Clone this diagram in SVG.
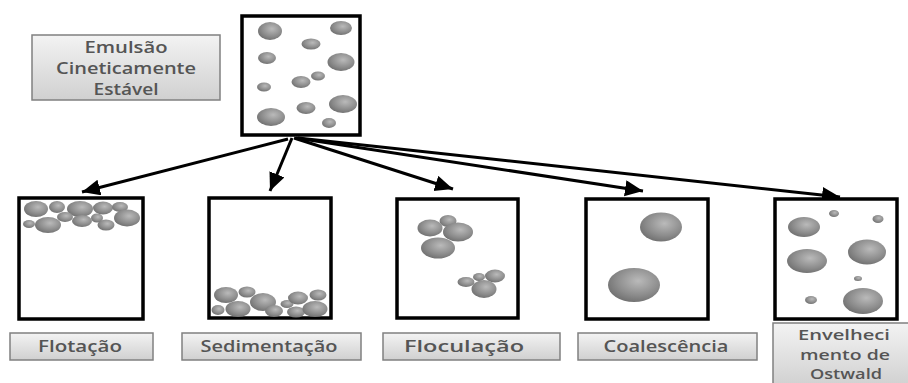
<svg xmlns="http://www.w3.org/2000/svg" width="908" height="383" viewBox="0 0 908 383">
  <defs>
    <radialGradient id="sphere" cx="0.58" cy="0.38" r="0.7">
      <stop offset="0" stop-color="#bababa"/>
      <stop offset="0.6" stop-color="#8c8c8c"/>
      <stop offset="1" stop-color="#6a6a6a"/>
    </radialGradient>
    <linearGradient id="tag" x1="0" y1="0" x2="0" y2="1">
      <stop offset="0" stop-color="#f3f3f3"/>
      <stop offset="1" stop-color="#d0d0d0"/>
    </linearGradient>
    <marker id="head" markerUnits="userSpaceOnUse" markerWidth="20" markerHeight="18" refX="18" refY="8" orient="auto">
      <path d="M0,0 L18,8 L0,16 z" fill="#000"/>
    </marker>
  </defs>
  <style>
    .vessel { fill: #fff; stroke: #000; stroke-width: 3.5; }
    .drop { fill: url(#sphere); }
    .tag { fill: url(#tag); stroke: #808080; stroke-width: 1.5; }
    .label { font-family: "Open Sans", "DejaVu Sans", sans-serif; font-size: 15.5px; font-weight: 600; fill: #555; text-anchor: middle; }
    .small { font-size: 14px; }
    .arrow { fill: none; stroke: #000; stroke-width: 3; marker-end: url(#head); }
  </style>

  <rect width="908" height="383" fill="#fff"/>

  <!-- stable emulsion caption -->
  <g id="label-stable">
    <rect class="tag" x="32" y="35" width="188" height="65"/>
    <text class="label" x="126" y="53" textLength="83" lengthAdjust="spacingAndGlyphs">Emulsão</text>
    <text class="label" x="126" y="74" textLength="140" lengthAdjust="spacingAndGlyphs">Cineticamente</text>
    <text class="label" x="126" y="95" textLength="65" lengthAdjust="spacingAndGlyphs">Estável</text>
  </g>

  <!-- initial dispersed emulsion -->
  <g id="emulsion">
    <rect class="vessel" x="242" y="16" width="118" height="119"/>
    <ellipse class="drop" cx="270" cy="31" rx="12" ry="9"/>
    <ellipse class="drop" cx="341" cy="28" rx="11" ry="7"/>
    <ellipse class="drop" cx="311" cy="44" rx="9.5" ry="5.5"/>
    <ellipse class="drop" cx="267" cy="58" rx="9" ry="6"/>
    <ellipse class="drop" cx="341" cy="62" rx="13.5" ry="9"/>
    <ellipse class="drop" cx="318" cy="76" rx="7" ry="4.5"/>
    <ellipse class="drop" cx="301" cy="82" rx="9.5" ry="6"/>
    <ellipse class="drop" cx="264" cy="87" rx="7" ry="4.5"/>
    <ellipse class="drop" cx="343" cy="104" rx="14" ry="9"/>
    <ellipse class="drop" cx="306" cy="108" rx="9.5" ry="6"/>
    <ellipse class="drop" cx="271" cy="117" rx="14" ry="9"/>
    <ellipse class="drop" cx="329" cy="123" rx="7" ry="5"/>
  </g>

  <!-- connectors -->
  <g id="connectors">
    <line class="arrow" x1="288" y1="139" x2="82" y2="192"/>
    <line class="arrow" x1="292" y1="138" x2="270" y2="191"/>
    <line class="arrow" x1="294" y1="138" x2="453" y2="189"/>
    <line class="arrow" x1="296" y1="138" x2="643" y2="191"/>
    <line class="arrow" x1="298" y1="138" x2="840" y2="197"/>
  </g>

  <!-- creaming -->
  <g id="flotacao">
    <rect class="vessel" x="19" y="198" width="124" height="121"/>
    <ellipse class="drop" cx="29" cy="224" rx="6" ry="4"/>
    <ellipse class="drop" cx="36" cy="209" rx="12" ry="8"/>
    <ellipse class="drop" cx="57" cy="207" rx="8" ry="6"/>
    <ellipse class="drop" cx="80" cy="209" rx="13" ry="8"/>
    <ellipse class="drop" cx="103" cy="208" rx="10" ry="6.5"/>
    <ellipse class="drop" cx="120" cy="207" rx="8" ry="5"/>
    <ellipse class="drop" cx="65" cy="217" rx="8" ry="5"/>
    <ellipse class="drop" cx="97" cy="218" rx="6" ry="4.5"/>
    <ellipse class="drop" cx="127" cy="218" rx="13" ry="8.5"/>
    <ellipse class="drop" cx="48" cy="225" rx="13" ry="8"/>
    <ellipse class="drop" cx="82" cy="221" rx="10" ry="6"/>
    <ellipse class="drop" cx="106" cy="225" rx="8.5" ry="5.5"/>
  </g>

  <!-- sedimentation -->
  <g id="sedimentacao">
    <rect class="vessel" x="209" y="198" width="122" height="120"/>
    <ellipse class="drop" cx="226" cy="295" rx="12" ry="8"/>
    <ellipse class="drop" cx="247" cy="292" rx="8.5" ry="5.5"/>
    <ellipse class="drop" cx="218" cy="310" rx="6.5" ry="5"/>
    <ellipse class="drop" cx="238" cy="309" rx="12.5" ry="8"/>
    <ellipse class="drop" cx="263" cy="302" rx="13" ry="9"/>
    <ellipse class="drop" cx="274" cy="311" rx="9" ry="6"/>
    <ellipse class="drop" cx="287" cy="304" rx="6.5" ry="4"/>
    <ellipse class="drop" cx="298" cy="298" rx="10" ry="6.5"/>
    <ellipse class="drop" cx="318" cy="295" rx="8.5" ry="5.5"/>
    <ellipse class="drop" cx="296" cy="312" rx="9" ry="5.5"/>
    <ellipse class="drop" cx="315" cy="309" rx="12.5" ry="8"/>
  </g>

  <!-- flocculation -->
  <g id="floculacao">
    <rect class="vessel" x="397" y="199" width="121" height="119"/>
    <ellipse class="drop" cx="448" cy="221" rx="8.5" ry="6"/>
    <ellipse class="drop" cx="430" cy="228" rx="12.5" ry="8.5"/>
    <ellipse class="drop" cx="458" cy="232" rx="15" ry="9.5"/>
    <ellipse class="drop" cx="438" cy="248" rx="17" ry="10.5"/>
    <ellipse class="drop" cx="479" cy="277" rx="6" ry="4"/>
    <ellipse class="drop" cx="466" cy="282" rx="8.5" ry="5"/>
    <ellipse class="drop" cx="495" cy="276" rx="10" ry="6.5"/>
    <ellipse class="drop" cx="484" cy="289" rx="12.5" ry="9"/>
  </g>

  <!-- coalescence -->
  <g id="coalescencia">
    <rect class="vessel" x="586" y="199" width="122" height="120"/>
    <ellipse class="drop" cx="661" cy="227" rx="21" ry="14.5"/>
    <ellipse class="drop" cx="634" cy="285" rx="26" ry="17"/>
  </g>

  <!-- Ostwald ripening -->
  <g id="ostwald">
    <rect class="vessel" x="775" y="199" width="122" height="120"/>
    <ellipse class="drop" cx="834" cy="213.5" rx="5" ry="3.5"/>
    <ellipse class="drop" cx="878" cy="219" rx="5.5" ry="4"/>
    <ellipse class="drop" cx="804" cy="227" rx="16" ry="10"/>
    <ellipse class="drop" cx="807" cy="261" rx="20" ry="12"/>
    <ellipse class="drop" cx="867" cy="252" rx="19" ry="12.5"/>
    <ellipse class="drop" cx="858" cy="278.5" rx="4" ry="2.5"/>
    <ellipse class="drop" cx="811" cy="300" rx="6" ry="4"/>
    <ellipse class="drop" cx="863" cy="301" rx="20" ry="13"/>
  </g>

  <!-- captions under each vessel -->
  <g id="label-flotacao">
    <rect class="tag" x="10" y="333" width="143" height="27"/>
    <text class="label" x="80" y="352" textLength="84" lengthAdjust="spacingAndGlyphs">Flotação</text>
  </g>
  <g id="label-sedimentacao">
    <rect class="tag" x="182" y="333" width="179" height="27"/>
    <text class="label" x="269" y="352" textLength="137" lengthAdjust="spacingAndGlyphs">Sedimentação</text>
  </g>
  <g id="label-floculacao">
    <rect class="tag" x="383" y="333" width="177" height="27"/>
    <text class="label" x="464" y="352" textLength="120" lengthAdjust="spacingAndGlyphs">Floculação</text>
  </g>
  <g id="label-coalescencia">
    <rect class="tag" x="578" y="333" width="179" height="27"/>
    <text class="label" x="666" y="352" textLength="125" lengthAdjust="spacingAndGlyphs">Coalescência</text>
  </g>
  <g id="label-ostwald">
    <rect class="tag" x="773" y="323" width="142" height="64"/>
    <text class="label small" x="844" y="340" textLength="92" lengthAdjust="spacingAndGlyphs">Envelheci</text>
    <text class="label small" x="845" y="359.5" textLength="90" lengthAdjust="spacingAndGlyphs">mento de</text>
    <text class="label small" x="846" y="379" textLength="72" lengthAdjust="spacingAndGlyphs">Ostwald</text>
  </g>
</svg>
